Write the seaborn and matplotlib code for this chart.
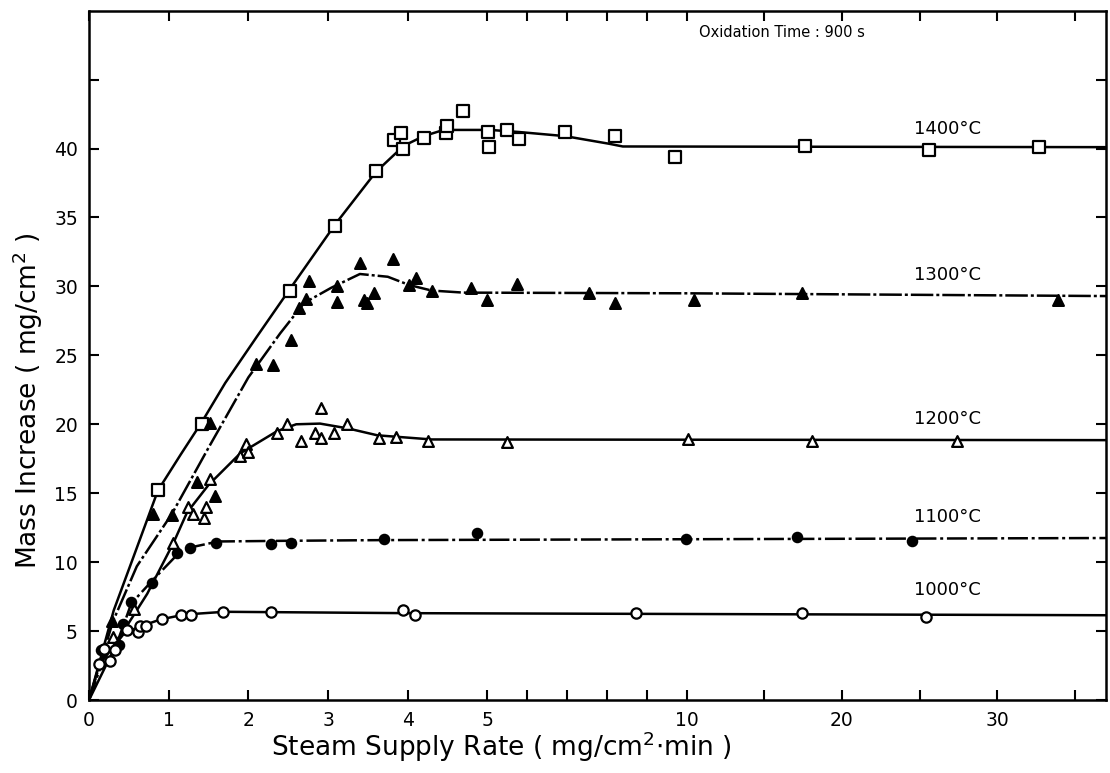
import numpy as np
import matplotlib
matplotlib.use("Agg")
import matplotlib.pyplot as plt
import seaborn as sns

# ---------------- data ----------------
# measured points
x1400 = [0.865, 1.42, 2.52, 3.09, 3.60, 3.83, 3.91, 3.94, 4.21, 4.48, 4.49, 4.69, 5.02, 5.03,
         5.50, 5.79, 6.95, 8.20, 9.71, 17.6, 25.6, 32.7]
y1400 = [15.2, 20.0, 29.7, 34.4, 38.4, 40.6, 41.1, 40.0, 40.8, 41.1, 41.6, 42.7, 41.2, 40.1,
         41.35, 40.7, 41.2, 40.9, 39.4, 40.15, 39.9, 40.1]

x1300 = [0.29, 0.80, 1.04, 1.35, 1.52, 1.58, 2.09, 2.31, 2.53, 2.64, 2.72, 2.76, 3.11, 3.11,
         3.40, 3.45, 3.49, 3.58, 3.82, 4.02, 4.11, 4.30, 4.80, 4.99, 5.75, 7.54, 8.20, 10.5,
         17.4, 33.9]
y1300 = [5.7, 13.5, 13.4, 15.8, 20.1, 14.8, 24.4, 24.3, 26.1, 28.4, 29.1, 30.4, 30.0, 28.9,
         31.7, 29.0, 28.8, 29.5, 32.0, 30.1, 30.6, 29.7, 29.9, 29.0, 30.2, 29.5, 28.8, 29.0,
         29.5, 29.0]

x1200 = [0.30, 0.56, 1.06, 1.24, 1.31, 1.44, 1.47, 1.52, 1.90, 1.97, 1.99, 2.36, 2.49, 2.66,
         2.84, 2.91, 2.91, 3.08, 3.24, 3.64, 3.85, 4.26, 5.50, 10.1, 18.1, 27.4]
y1200 = [4.6, 6.6, 11.4, 14.0, 13.5, 13.2, 14.0, 16.0, 17.7, 18.6, 18.0, 19.4, 20.0, 18.8,
         19.4, 21.2, 19.0, 19.4, 20.0, 19.0, 19.1, 18.8, 18.7, 18.9, 18.8, 18.8]

x1100 = [0.15, 0.38, 0.43, 0.525, 0.79, 1.10, 1.27, 1.60, 2.29, 2.53, 3.70, 4.87, 9.98, 17.1, 24.5]
y1100 = [3.6, 4.0, 5.55, 7.1, 8.5, 10.7, 11.0, 11.4, 11.35, 11.4, 11.65, 12.1, 11.7, 11.8, 11.5]

x1000 = [0.13, 0.19, 0.26, 0.32, 0.475, 0.62, 0.64, 0.71, 0.91, 1.15, 1.28, 1.68, 2.28, 3.94,
         4.09, 8.72, 17.4, 25.4]
y1000 = [2.6, 3.7, 2.85, 3.6, 5.1, 4.95, 5.4, 5.4, 5.9, 6.2, 6.2, 6.4, 6.35, 6.5, 6.2, 6.3,
         6.3, 6.0]

# hand-drawn fit curves
cx1400 = [0, 0.31, 0.54, 0.865, 1.15, 1.42, 1.71, 2.1, 2.52, 3.09, 3.60, 3.95, 4.2, 4.45,
          5.07, 5.79, 6.95, 8.05, 8.4, 37]
cy1400 = [0, 6.5, 10.1, 15.2, 17.8, 20.2, 23.0, 26.3, 29.8, 34.5, 38.3, 40.2, 40.9, 41.35,
          41.35, 41.2, 40.9, 40.35, 40.15, 40.1]

cx1300 = [0, 0.3, 0.6, 1.04, 1.5, 2.0, 2.4, 2.7, 3.04, 3.4, 3.75, 4.02, 4.3, 4.7, 10, 37]
cy1300 = [0, 5.7, 9.7, 13.5, 18.3, 23.4, 26.6, 28.8, 29.9, 30.9, 30.7, 30.1, 29.7, 29.55,
          29.5, 29.3]

cx1200 = [0, 0.39, 0.73, 1.06, 1.23, 1.5, 1.9, 2.36, 2.6, 2.9, 3.25, 3.62, 4.3, 37]
cy1200 = [0, 4.6, 7.7, 11.4, 13.6, 15.6, 17.9, 19.5, 20.0, 20.05, 19.7, 19.2, 18.9, 18.85]

cx1100 = [0, 0.2, 0.38, 0.45, 0.53, 0.8, 1.1, 1.3, 1.62, 2.5, 3.7, 37]
cy1100 = [0, 3.3, 4.6, 5.7, 7.0, 8.7, 10.5, 11.1, 11.5, 11.55, 11.6, 11.75]

cx1000 = [0, 0.13, 0.3, 0.45, 0.7, 0.9, 1.2, 1.7, 4.0, 37]
cy1000 = [0, 2.6, 3.8, 4.9, 5.45, 5.85, 6.2, 6.4, 6.3, 6.15]

series_labels = ["1400°C", "1300°C", "1200°C", "1100°C", "1000°C"]
label_levels = [41.4, 30.8, 20.4, 13.3, 8.0]

xticks = [0, 1, 2, 3, 4, 5, 6, 7, 8, 9, 10, 15, 20, 25, 30, 35]
xticklabels = ["0", "1", "2", "3", "4", "5", "", "", "", "", "10", "", "20", "", "30", ""]
yticks = [0, 5, 10, 15, 20, 25, 30, 35, 40, 45]
yticklabels = ["0", "5", "10", "15", "20", "25", "30", "35", "40", ""]

# ---------------- style ----------------
sns.set_theme(style="ticks")
plt.rcParams["font.family"] = ["DejaVu Sans"]
plt.rcParams["axes.linewidth"] = 1.8
plt.rcParams["text.color"] = "black"
plt.rcParams["axes.labelcolor"] = "black"
plt.rcParams["xtick.color"] = "black"
plt.rcParams["ytick.color"] = "black"

fig = plt.figure(figsize=(11.10, 7.73), dpi=100)
ax = fig.add_axes([0.0802, 0.0944, 0.9162, 0.8918])


def fwd(x):
    x = np.asarray(x, dtype=float)
    return np.where(x <= 5, 2 * x, np.where(x <= 10, x + 5, 15 + 0.39 * (x - 10)))


def inv(s):
    s = np.asarray(s, dtype=float)
    return np.where(s <= 10, s / 2, np.where(s <= 15, s - 5, 10 + (s - 15) / 0.39))


ax.set_xscale("function", functions=(fwd, inv))
ax.set_xlim(0, 37)
ax.set_ylim(0, 50)

lw = 1.8
curves = [
    (cx1400, cy1400, "-"),
    (cx1300, cy1300, (0, (9, 1.2, 1.2, 1.2))),
    (cx1200, cy1200, "-"),
    (cx1100, cy1100, (0, (8, 1.5, 1.2, 1.5))),
    (cx1000, cy1000, "-"),
]
for cx, cy, ls in curves:
    sns.lineplot(x=cx, y=cy, ax=ax, color="black", lw=lw, linestyle=ls,
                 estimator=None, sort=False, legend=False, zorder=2)

pts = [
    (x1400, y1400, "s", "white", 64),
    (x1300, y1300, "^", "black", 60),
    (x1200, y1200, "^", "white", 60),
    (x1100, y1100, "o", "black", 45),
    (x1000, y1000, "o", "white", 55),
]
for px, py, mk, fc, s in pts:
    sns.scatterplot(x=px, y=py, ax=ax, marker=mk, s=s, facecolor=fc,
                    edgecolor="black", linewidth=1.6, legend=False, zorder=3)

for lab, lev in zip(series_labels, label_levels):
    ax.text(26.8, lev, lab, ha="center", va="center", fontsize=13, color="black")

ax.text(0.60, 0.968, "Oxidation Time : 900 s", transform=ax.transAxes,
        ha="left", va="center", fontsize=10.5, color="black")

ax.set_xticks(xticks)
ax.set_xticklabels(xticklabels)
ax.set_yticks(yticks)
ax.set_yticklabels(yticklabels)
ax.tick_params(axis="both", direction="in", length=7, width=1.5, labelsize=13.5,
               top=True, right=True, pad=8, colors="black")
ax.minorticks_off()

ax.set_xlabel("Steam Supply Rate ( mg/cm$^2$$\\cdot$min )", fontsize=19, va="center",
              color="black")
ax.set_ylabel("Mass Increase ( mg/cm$^2$ )", fontsize=19, va="center", color="black")
ax.xaxis.set_label_coords(0.405, -0.068)
ax.yaxis.set_label_coords(-0.06, 0.435)
for sp in ax.spines.values():
    sp.set_color("black")

fig.savefig("out.png", dpi=100, facecolor="white")
